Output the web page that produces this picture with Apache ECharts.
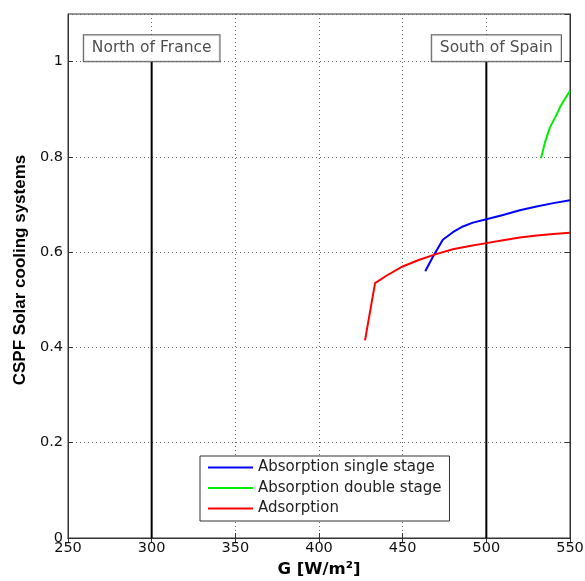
<!DOCTYPE html>
<html>
<head>
<meta charset="utf-8">
<script src="https://cdn.jsdelivr.net/npm/echarts@6/dist/echarts.min.js"></script>
<style>
html,body{margin:0;padding:0;background:#fff;}
#chart{width:585px;height:581px;}
</style>
</head>
<body>
<div id="chart"></div>
<script>
// ---- data ----
var xTicks = [250, 300, 350, 400, 450, 500, 550];
var yTicks = [0, 0.2, 0.4, 0.6, 0.8, 1];

var absSingleX = [463.5, 468, 474, 480, 486, 492, 500, 510, 520, 530, 540, 550];
var absSingleY = [0.560, 0.590, 0.626, 0.642, 0.654, 0.662, 0.669, 0.678, 0.688, 0.696, 0.703, 0.709];

var absDoubleX = [532.7, 535, 538, 541, 544, 547, 550];
var absDoubleY = [0.797, 0.830, 0.862, 0.882, 0.904, 0.922, 0.939];

var adsX = [427.5, 433.5, 440, 450, 460, 470, 480, 490, 500, 510, 520, 530, 540, 550];
var adsY = [0.415, 0.535, 0.550, 0.570, 0.584, 0.596, 0.606, 0.613, 0.619, 0.625, 0.631, 0.635, 0.638, 0.641];

var seriesNames = ['Absorption single stage', 'Absorption double stage', 'Adsorption'];

var siteNames = ['North of France', 'South of Spain'];
var siteG = [300, 500];
var siteLabelG = [300, 506];
var siteLineY = [0, 1];

function zip(xs, ys) { return xs.map(function (x, i) { return [x, ys[i]]; }); }

var FONT = 'DejaVu Sans, Liberation Sans, Arial, sans-serif';
var FONT_Y = 'Liberation Sans, Arial, Helvetica, sans-serif';
var chart = echarts.init(document.getElementById('chart'), null, {renderer: 'canvas'});

var series = [
  {name: seriesNames[0], type: 'line', data: zip(absSingleX, absSingleY), symbol: 'none',
   lineStyle: {color: '#0000ff', width: 2}, itemStyle: {color: '#0000ff'}, z: 5},
  {name: seriesNames[1], type: 'line', data: zip(absDoubleX, absDoubleY), symbol: 'none',
   lineStyle: {color: '#00ee00', width: 2}, itemStyle: {color: '#00ee00'}, z: 5},
  {name: seriesNames[2], type: 'line', data: zip(adsX, adsY), symbol: 'none',
   lineStyle: {color: '#ff0000', width: 2}, itemStyle: {color: '#ff0000'}, z: 5}
];
siteG.forEach(function (g, i) {
  series.push({name: 'site' + i, type: 'line', symbol: 'none', silent: true,
    data: siteLineY.map(function (y) { return [g, y]; }),
    lineStyle: {color: '#000', width: 2}, z: 4});
});
series.push({
  name: 'siteLabels', type: 'scatter', symbolSize: 1, silent: true, z: 6, clip: false,
  itemStyle: {color: 'rgba(0,0,0,0)'},
  data: siteNames.map(function (n, i) { return {name: n, value: [siteLabelG[i], siteLineY[1]]}; }),
  label: {show: true, position: 'top', distance: 0, formatter: '{b}',
    fontFamily: FONT, fontSize: 15.5, color: '#222', lineHeight: 15,
    backgroundColor: '#fff', borderColor: '#333', borderWidth: 1, padding: [5, 8, 6, 8]}
});

chart.setOption({
  animation: false,
  backgroundColor: '#fff',
  grid: {left: 68, right: 15, top: 14, bottom: 43, outerBoundsMode: 'none', containLabel: false,
    show: true, borderColor: '#333', borderWidth: 1, backgroundColor: 'transparent'},
  legend: {
    data: seriesNames, orient: 'vertical', left: 200, top: 456,
    icon: 'path://M0,0 M45,15 M0,6.5 L45,6.5 L45,8.5 L0,8.5 Z',
    backgroundColor: '#fff', borderColor: '#333', borderWidth: 1,
    padding: [4, 8, 5, 8], itemWidth: 45, itemHeight: 15, itemGap: 5.5,
    textStyle: {fontFamily: FONT, fontSize: 15, color: '#222', lineHeight: 15},
    selectedMode: false
  },
  xAxis: [{
    type: 'value', min: xTicks[0], max: xTicks[xTicks.length - 1], interval: 50,
    name: 'G [W/m²]', nameLocation: 'middle', nameGap: 22,
    nameTextStyle: {fontFamily: FONT, fontSize: 16.5, fontWeight: 'bold', color: '#000'},
    axisLine: {show: true, lineStyle: {color: '#333', width: 1}},
    axisTick: {show: true, inside: true, length: 5, lineStyle: {color: '#333'}},
    axisLabel: {fontFamily: FONT, fontSize: 14.5, color: '#111', margin: 3},
    splitLine: {show: true, lineStyle: {color: '#666', type: [1, 3], width: 1}}
  }, {
    type: 'value', position: 'top', min: xTicks[0], max: xTicks[xTicks.length - 1], interval: 50,
    axisLine: {show: true, lineStyle: {color: '#333'}},
    axisTick: {show: true, inside: true, length: 5, lineStyle: {color: '#333'}},
    axisLabel: {show: false}, splitLine: {show: false}
  }],
  yAxis: [{
    type: 'value', min: 0, max: 1.1, interval: 0.2,
    name: 'CSPF Solar cooling systems', nameLocation: 'middle', nameGap: 34,
    nameTextStyle: {fontFamily: FONT_Y, fontSize: 17, fontWeight: 'bold', color: '#000', padding: [0, 0, 0, 12]},
    axisLine: {show: true, lineStyle: {color: '#333', width: 1}},
    axisTick: {show: true, inside: true, length: 5, lineStyle: {color: '#333'}},
    axisLabel: {fontFamily: FONT, fontSize: 14.5, color: '#111', margin: 5, showMaxLabel: false,
      formatter: function (v) { return yTicks.some(function (t) { return Math.abs(t - v) < 1e-6; }) ? String(Math.round(v * 10) / 10) : ''; }},
    splitLine: {show: true, lineStyle: {color: '#666', type: [1, 3], width: 1}}
  }, {
    type: 'value', position: 'right', min: 0, max: 1.1, interval: 0.2,
    axisLine: {show: true, lineStyle: {color: '#333'}},
    axisTick: {show: true, inside: true, length: 5, lineStyle: {color: '#333'}},
    axisLabel: {show: false}, splitLine: {show: false}
  }],
  series: series
});
</script>
</body>
</html>
